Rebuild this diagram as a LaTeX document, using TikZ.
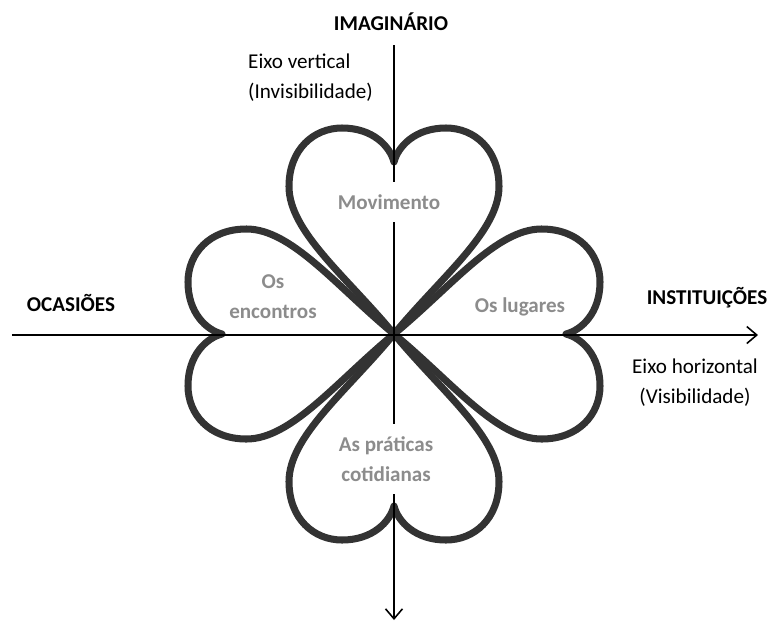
\documentclass[tikz,border=0pt]{standalone}
\usepackage{fontspec}
\setmainfont{Carlito}
\usepackage{tikz}
\usetikzlibrary{arrows.meta}

\tikzset{
  leafline/.style={draw=black!80, line width=4pt, line join=round},
  axisline/.style={black, line width=0.9pt, -{Straight Barb[length=2mm,width=3.4mm]}},
  capt/.style={font=\fontsize{12}{17}\selectfont\bfseries},
  note/.style={font=\fontsize{12}{17}\selectfont, align=center},
  leaftext/.style={font=\fontsize{12}{17}\selectfont\bfseries, text=black!45, align=center},
  gap/.style={fill=white, inner xsep=2pt, inner ysep=0.26cm},
  petal/.pic={
    \draw[leafline] (0,0) .. controls (0.95,1.15) and (2.1,2.05) .. (2.1,2.95)
      .. controls (2.1,3.7) and (1.6,4.12) .. (1.04,4.12)
      .. controls (0.42,4.12) and (0.08,3.75) .. (0,3.44)
      .. controls (-0.08,3.75) and (-0.42,4.12) .. (-1.04,4.12)
      .. controls (-1.6,4.12) and (-2.1,3.7) .. (-2.1,2.95)
      .. controls (-2.1,2.05) and (-0.95,1.15) .. (0,0) -- cycle;
  },
}

\begin{document}
\begin{tikzpicture}
  \useasboundingbox (-7.88,-5.78) rectangle (7.6,6.68);

  % the four leaves
  \pic at (0,0) {petal};
  \pic[rotate=90] at (0,0) {petal};
  \pic[rotate=180] at (0,0) {petal};
  \pic[rotate=-90] at (0,0) {petal};

  % axes
  \coordinate (top) at (0,5.78);
  \coordinate (bot) at (0,-5.72);
  \coordinate (lft) at (-7.64,-0.02);
  \coordinate (rgt) at (7.28,-0.02);
  \draw[axisline] (top) -- (bot);
  \draw[axisline] (lft) -- (rgt);

  % labels
  \node[capt] at (-0.06,6.24) (im) {IMAGINÁRIO};
  \node[capt] at (-6.46,0.62) (oc) {OCASIÕES};
  \node[capt] at (6.26,0.72) (ins) {INSTITUIÇÕES};
  \node[note, align=left, anchor=west] at (-3.04,5.12) (ev) {Eixo vertical\\(Invisibilidade)};
  \node[note] at (6.02,-0.98) (eh) {Eixo horizontal\\(Visibilidade)};

  \node[leaftext, gap] at (-0.1,2.64) (mv) {Movimento};
  \node[leaftext] at (-2.42,0.74) (en) {Os\\encontros};
  \node[leaftext] at (2.52,0.54) (lu) {Os lugares};
  \node[leaftext, gap] at (-0.16,-2.5) (pc) {As práticas\\cotidianas};
\end{tikzpicture}
\end{document}
